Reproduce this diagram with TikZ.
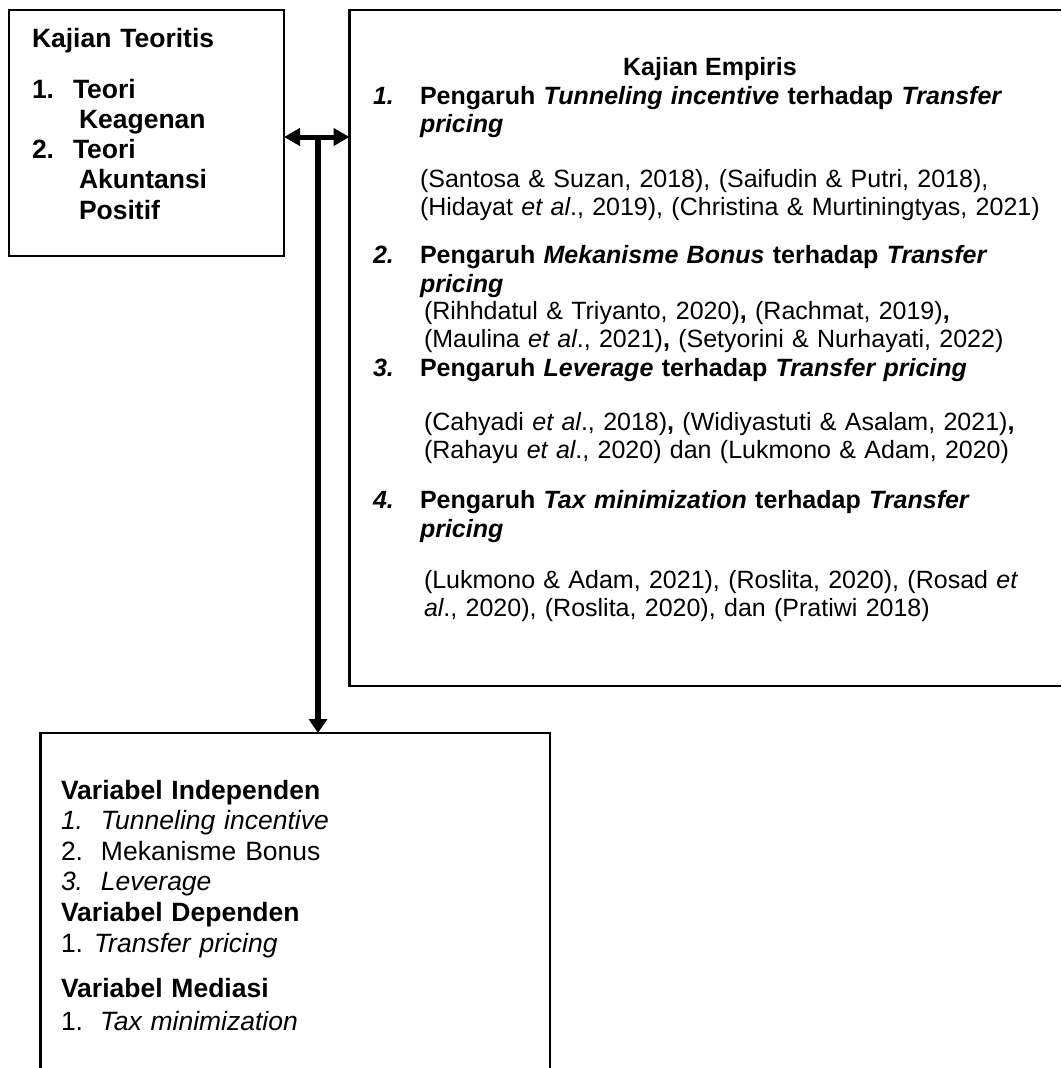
\documentclass[tikz,border=0pt]{standalone}
\usepackage{fontspec}
\setmainfont{Liberation Sans}
\usetikzlibrary{arrows.meta}

\tikzset{
    panel/.style={draw, line width=2.5pt, inner sep=0pt, outer sep=0pt, anchor=north west},
    txt/.style={inner sep=0pt, outer sep=0pt, anchor=base west, align=left, text width=680pt},
    big/.style={font=\fontsize{26.5}{30.6}\selectfont},
    small/.style={font=\fontsize{25}{28}\selectfont},
    twoway/.style={line width=5pt, {Triangle[length=16pt,width=17pt]}-{Triangle[length=16pt,width=17pt]}},
    oneway/.style={line width=6pt, -{Triangle[length=14pt,width=18pt]}}
}

\begin{document}
\begin{tikzpicture}[x=1pt, y=-1pt]
    \useasboundingbox (0,0) rectangle (1061,1068);
    \clip (0,0) rectangle (1061,1068);

    % boxes
    \node[panel, minimum width=275pt, minimum height=246pt] (teori) at (9,10) {};
    \node[panel, minimum width=730pt, minimum height=676pt] (empiris) at (349.5,10) {};
    \node[panel, minimum width=509.5pt, minimum height=400pt] (variabel) at (40.5,733) {};

    % arrows
    \coordinate (mid) at (318,137);
    \draw[twoway] (mid -| teori.east) -- (mid -| empiris.west);
    \draw[oneway] (mid) -- (mid |- variabel.north);

    % kajian teoritis
    \begin{scope}[every node/.style={txt, big, font=\fontsize{26.5}{30.6}\selectfont\bfseries}]
        \node (kt) at (32,47) {Kajian Teoritis};
        \node (kt1) at (32,98) {1.};
        \node (kt1t) at (73,98) {Teori\\\hspace*{6pt}Keagenan};
        \node (kt2) at (32,158) {2.};
        \node (kt2t) at (73,158) {Teori\\\hspace*{6pt}Akuntansi\\\hspace*{6pt}Positif};
    \end{scope}

    % kajian empiris
    \begin{scope}[every node/.style={txt, font=\fontsize{25}{28}\selectfont}]
        \node[anchor=base, text width=, font=\fontsize{25}{28}\selectfont\bfseries] (ke) at (710,75) {Kajian Empiris};

        \node (ke1) at (373,104) {\bfseries\itshape 1.};
        \node[font=\fontsize{25}{28}\selectfont\bfseries] (ke1h) at (420,104)
            {\makebox[599pt][s]{Pengaruh \textit{Tunneling incentive} terhadap \textit{Transfer}}\\\textit{pricing}};
        \node (ke1c) at (420,187)
            {(Santosa \& Suzan, 2018), (Saifudin \& Putri, 2018),\\(Hidayat \textit{et al}., 2019), (Christina \& Murtiningtyas, 2021)};

        \node (ke2) at (373,263) {\bfseries\itshape 2.};
        \node[font=\fontsize{25}{29}\selectfont\bfseries] (ke2h) at (420,263)
            {Pengaruh \textit{Mekanisme Bonus} terhadap \textit{Transfer}\\\textit{pricing}};
        \node (ke2c) at (424,319)
            {\makebox[561pt][s]{(Rihhdatul \& Triyanto, 2020)\textbf{,} (Rachmat, 2019)\textbf{,}}\\(Maulina \textit{et al}., 2021)\textbf{,} (Setyorini \& Nurhayati, 2022)};

        \node (ke3) at (373,376) {\bfseries\itshape 3.};
        \node[font=\fontsize{25}{28}\selectfont\bfseries] (ke3h) at (420,376)
            {Pengaruh \textit{Leverage} terhadap \textit{Transfer pricing}};
        \node (ke3c) at (424,430)
            {(Cahyadi \textit{et al}., 2018)\textbf{,} (Widiyastuti \& Asalam, 2021)\textbf{,}\\(Rahayu \textit{et al}., 2020) dan (Lukmono \& Adam, 2020)};

        \node (ke4) at (373,508) {\bfseries\itshape 4.};
        \node[font=\fontsize{25}{29}\selectfont\bfseries] (ke4h) at (420,508)
            {\makebox[573pt][s]{Pengaruh \textit{Tax minimization} terhadap \textit{Transfer}}\\\textit{pricing}};
        \node (ke4c) at (424,588)
            {\makebox[597pt][s]{(Lukmono \& Adam, 2021), (Roslita, 2020), (Rosad \textit{et}}\\\textit{al}., 2020), (Roslita, 2020), dan (Pratiwi 2018)};
    \end{scope}

    % variabel
    \begin{scope}[every node/.style={txt, big}]
        \node (vi) at (61,799)
            {\textbf{Variabel Independen}\\
             \textit{\makebox[40pt][l]{1.}Tunneling incentive}\\
             \makebox[40pt][l]{2.}Mekanisme Bonus\\
             \textit{\makebox[40pt][l]{3.}Leverage}\\
             \textbf{Variabel Dependen}\\
             \makebox[33pt][l]{1.}\textit{Transfer pricing}};
        \node[font=\fontsize{26.5}{33}\selectfont] (vm) at (61,997)
            {\textbf{Variabel Mediasi}\\
             \makebox[39pt][l]{1.}\textit{Tax minimization}};
    \end{scope}
\end{tikzpicture}
\end{document}
